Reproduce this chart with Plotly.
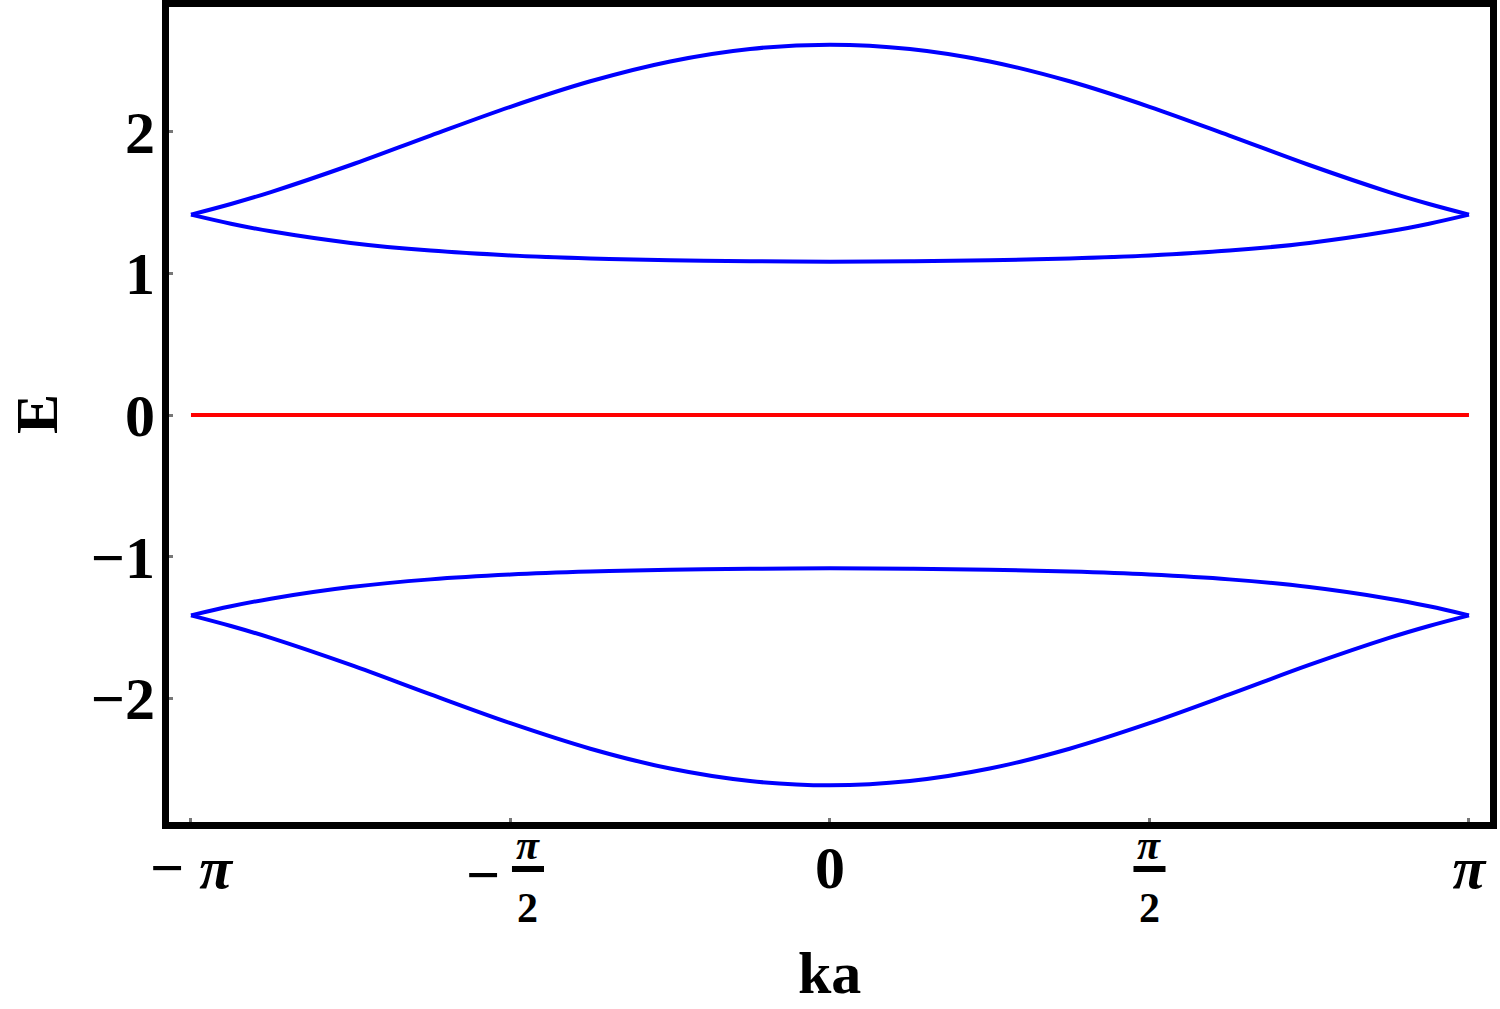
import numpy as np
import plotly.graph_objects as go

# ka in units of pi
k_over_pi = [-1, -0.9375, -0.875, -0.75, -0.625, -0.5, -0.375, -0.25, -0.125, 0,
             0.125, 0.25, 0.375, 0.5, 0.625, 0.75, 0.875, 0.9375, 1]

# bands
band_top = [1.414, 1.489, 1.573, 1.764, 1.972, 2.175, 2.355, 2.495, 2.583, 2.613,
            2.583, 2.495, 2.355, 2.175, 1.972, 1.764, 1.573, 1.489, 1.414]
band_upper_inner = [1.414, 1.350, 1.296, 1.214, 1.160, 1.126, 1.105, 1.092, 1.085, 1.082,
                    1.085, 1.092, 1.105, 1.126, 1.160, 1.214, 1.296, 1.350, 1.414]
band_lower_inner = [-1.414, -1.350, -1.296, -1.214, -1.160, -1.126, -1.105, -1.092, -1.085, -1.082,
                    -1.085, -1.092, -1.105, -1.126, -1.160, -1.214, -1.296, -1.350, -1.414]
band_bottom = [-1.414, -1.489, -1.573, -1.764, -1.972, -2.175, -2.355, -2.495, -2.583, -2.613,
               -2.583, -2.495, -2.355, -2.175, -1.972, -1.764, -1.573, -1.489, -1.414]

flat_k = [-1, 1]
flat_band = [0, 0]

y_ticks = [-2, -1, 0, 1, 2]
y_labels = ["\u22122", "\u22121", "0", "1", "2"]

FONT = "Liberation Serif"
BLUE = "#0000ff"
RED = "#ff0000"

ka = np.pi * np.array(k_over_pi)

fig = go.Figure()
for band in [band_top, band_upper_inner, band_lower_inner, band_bottom]:
    fig.add_trace(go.Scatter(x=ka, y=band, mode="lines",
                             line=dict(color=BLUE, width=4, shape="spline"),
                             showlegend=False))
fig.add_trace(go.Scatter(x=np.pi * np.array(flat_k), y=flat_band, mode="lines",
                         line=dict(color=RED, width=4), showlegend=False))

fig.update_layout(
    width=1500, height=1009,
    plot_bgcolor="white", paper_bgcolor="white",
    margin=dict(l=169, r=10, t=7, b=187),
    font=dict(family=FONT, size=60, color="black", weight="bold"),
)

fig.update_xaxes(
    range=[-1.0344 * np.pi, 1.0329 * np.pi],
    tickvals=[-np.pi, -np.pi / 2, 0, np.pi / 2, np.pi],
    ticktext=["\u2212 <i>\u03c0</i>", "", "0", "", "<i>\u03c0</i>"],
    tickfont=dict(family=FONT, size=60, weight="bold"),
    ticklabelstandoff=-13,
    ticks="inside", ticklen=4, tickwidth=3, tickcolor="#777777",
    showline=True, linewidth=7, linecolor="black", mirror=True,
    showgrid=False, zeroline=False, automargin=False,
)
fig.update_yaxes(
    range=[-2.872, 2.879],
    tickvals=y_ticks, ticktext=y_labels,
    tickfont=dict(family=FONT, size=60, weight="bold"),
    ticklabelstandoff=-5,
    ticks="inside", ticklen=4, tickwidth=3, tickcolor="#777777",
    showline=True, linewidth=7, linecolor="black", mirror=True,
    showgrid=False, zeroline=False, automargin=False,
)

# axis titles
fig.add_annotation(x=0, y=-0.1847, xref="x", yref="paper", text="ka", showarrow=False,
                   font=dict(family=FONT, size=60, weight="bold"),
                   xanchor="center", yanchor="middle")
fig.add_annotation(x=-0.1003, y=0.5, xref="paper", yref="paper", text="E", showarrow=False,
                   textangle=-90, font=dict(family=FONT, size=60, weight="bold"),
                   xanchor="center", yanchor="middle")

# fractional tick labels for -pi/2 and pi/2
half_px = 0.0787  # half width of the fraction bar in data units
for centre, minus in [(-0.4726 * np.pi, True), (0.5 * np.pi, False)]:
    fig.add_annotation(x=centre, y=-0.0282, xref="x", yref="paper",
                       text="<i>\u03c0</i>", showarrow=False,
                       font=dict(family=FONT, size=42, weight="bold"),
                       xanchor="center", yanchor="middle")
    fig.add_annotation(x=centre, y=-0.105, xref="x", yref="paper",
                       text="2", showarrow=False,
                       font=dict(family=FONT, size=42, weight="bold"),
                       xanchor="center", yanchor="middle")
    fig.add_shape(type="line", xref="x", yref="paper",
                  x0=centre - half_px, x1=centre + half_px, y0=-0.0577, y1=-0.0577,
                  line=dict(color="black", width=6))
    if minus:
        fig.add_annotation(x=-0.543 * np.pi, y=-0.065, xref="x", yref="paper",
                           text="\u2212", showarrow=False,
                           font=dict(family=FONT, size=60, weight="bold"),
                           xanchor="center", yanchor="middle")

fig.write_html("out.html", config={"displayModeBar": False},
               post_script="document.body.style.margin='0';")
